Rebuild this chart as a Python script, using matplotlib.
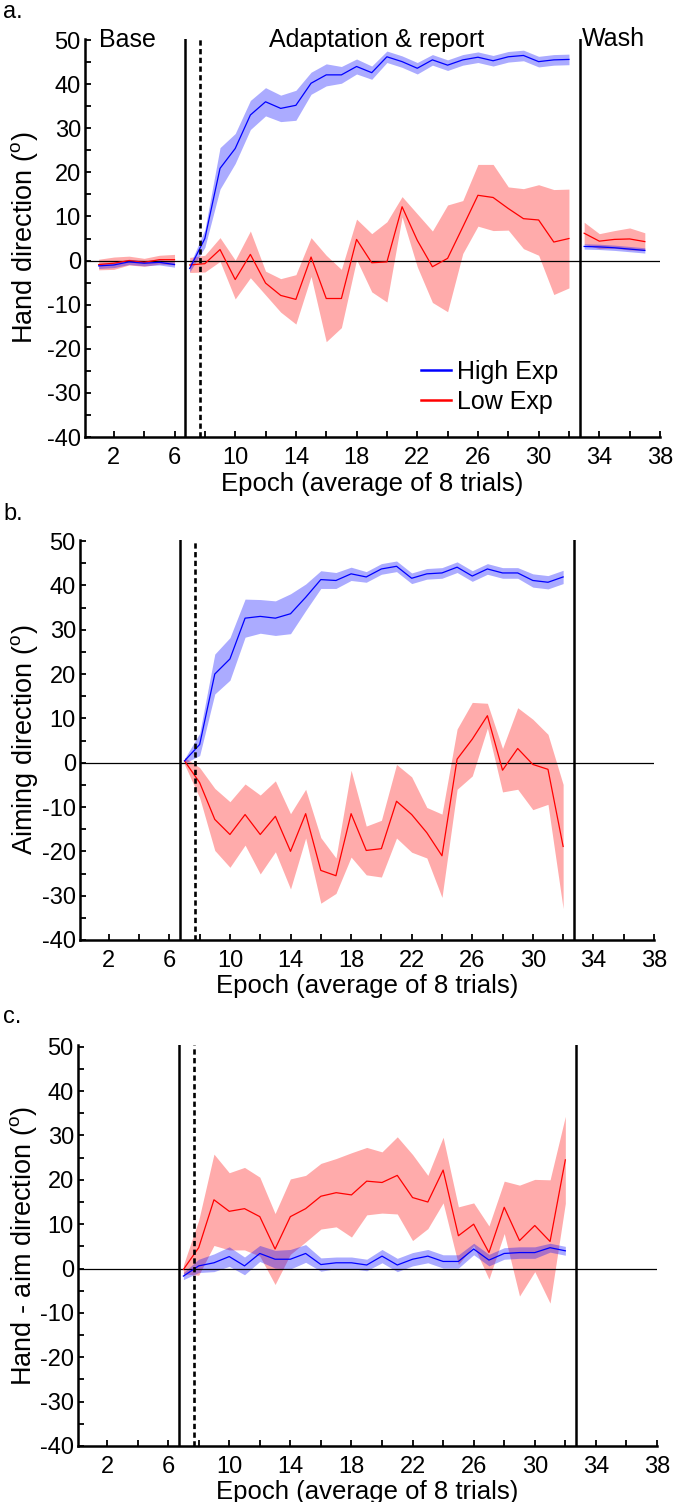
import matplotlib
matplotlib.use('Agg')
import numpy as np
import matplotlib.pyplot as plt

plt.rcParams['font.family'] = ['Liberation Sans', 'DejaVu Sans']
plt.rcParams['mathtext.default'] = 'regular'
plt.rcParams['axes.unicode_minus'] = False

# Эпохи
epochs_base = [1, 2, 3, 4, 5, 6]
epochs_adapt = [7, 8, 9, 10, 11, 12, 13, 14, 15, 16, 17, 18, 19, 20,
                21, 22, 23, 24, 25, 26, 27, 28, 29, 30, 31, 32]
epochs_wash = [33, 34, 35, 36, 37]

# a. Hand direction
hand_high_base = [-1.2, -1.0, -0.3, -0.6, -0.4, -0.9]
hand_high_base_sem = [0.6, 0.6, 0.6, 0.6, 0.6, 0.6]
hand_low_base = [-0.9, -0.6, 0.0, -0.4, 0.2, 0.2]
hand_low_base_sem = [1.2, 1.4, 1.0, 0.9, 1.0, 1.2]

hand_high = [-1.8, 5.0, 20.9, 25.4, 33.0, 36.0, 34.5, 35.2, 40.2, 42.1, 42.1, 44.0, 42.6,
             46.2, 45.1, 43.6, 45.5, 44.3, 45.5, 46.1, 45.3, 46.2, 46.5, 45.1, 45.5, 45.6]
hand_high_sem = [0.8, 2.0, 4.7, 3.4, 3.3, 3.2, 3.0, 3.4, 2.5, 2.5, 1.9, 1.7, 1.5,
                 1.3, 1.3, 1.3, 1.2, 1.2, 1.2, 1.2, 1.2, 1.2, 1.2, 1.2, 1.2, 1.2]
hand_low = [-1.0, -0.7, 2.5, -4.3, 1.4, -5.1, -7.9, -8.8, 0.8, -8.6, -8.6, 4.8, -0.5,
            -0.3, 12.2, 4.6, -1.4, 0.5, 7.6, 14.8, 14.3, 11.8, 9.5, 9.2, 4.2, 5.0]
hand_low_sem = [1.7, 1.9, 2.7, 4.4, 5.3, 2.7, 3.8, 5.6, 4.4, 9.8, 6.6, 4.6, 6.6,
                9.1, 2.3, 6.0, 8.1, 12.1, 6.0, 7.0, 7.5, 4.9, 6.8, 8.0, 11.9, 11.2]

hand_high_wash = [3.2, 3.1, 2.9, 2.6, 2.3]
hand_high_wash_sem = [0.6, 0.6, 0.6, 0.6, 0.6]
hand_low_wash = [6.2, 4.4, 4.8, 4.9, 4.3]
hand_low_wash_sem = [2.5, 1.7, 2.0, 2.5, 2.0]

# b. Aiming direction
aim_high = [0.4, 4.1, 20.0, 23.4, 32.6, 33.0, 32.6, 33.6, 37.3, 41.3, 41.1, 42.6, 41.9,
            43.7, 44.3, 41.6, 42.6, 42.8, 44.1, 42.1, 43.7, 42.8, 42.8, 41.1, 40.7, 41.9]
aim_high_sem = [0.5, 2.5, 4.5, 4.8, 4.3, 3.8, 3.9, 4.5, 3.0, 2.0, 1.8, 1.5, 1.2,
                1.2, 1.2, 1.2, 1.2, 1.2, 1.2, 1.2, 1.2, 1.2, 1.2, 1.5, 1.5, 1.5]
aim_low = [0.4, -4.5, -12.8, -16.2, -11.7, -16.2, -12.1, -20.0, -11.5, -24.3, -25.5, -11.5, -19.8,
           -19.4, -8.7, -11.7, -15.8, -21.0, 0.8, 5.3, 10.6, -1.7, 3.2, -0.4, -1.5, -18.9]
aim_low_sem = [0.8, 3.4, 7.0, 7.4, 6.9, 8.9, 8.0, 8.5, 5.5, 7.4, 4.0, 9.8, 5.5,
               6.4, 8.3, 8.5, 5.7, 9.4, 6.8, 8.3, 2.8, 4.9, 9.2, 10.2, 7.9, 14.0]

# c. Hand - aim direction
diff_high = [-1.7, 0.6, 1.3, 2.7, 0.6, 3.4, 2.1, 2.1, 3.4, 0.9, 1.3, 1.3, 0.8,
             2.8, 0.8, 2.1, 2.8, 1.6, 1.6, 4.4, 1.9, 3.4, 3.6, 3.6, 4.7, 4.0]
diff_high_sem = [0.8, 1.5, 2.0, 2.2, 2.0, 1.8, 2.0, 2.2, 2.0, 1.5, 1.3, 1.3, 1.3,
                 1.5, 1.5, 1.5, 1.5, 1.5, 1.5, 1.3, 1.3, 1.3, 1.3, 1.3, 1.0, 1.0]
diff_low = [-0.2, 4.7, 15.5, 12.9, 13.5, 11.7, 4.4, 11.7, 13.5, 16.3, 17.1, 16.6, 19.7,
            19.4, 21.0, 16.0, 15.0, 22.2, 7.4, 10.0, 3.6, 13.8, 6.3, 9.7, 6.1, 24.5]
diff_low_sem = [1.0, 6.2, 10.3, 8.7, 9.3, 8.9, 8.0, 8.5, 7.5, 7.4, 7.7, 9.5, 7.6,
                6.9, 8.7, 9.7, 6.0, 7.4, 6.5, 4.8, 6.0, 5.9, 12.5, 10.4, 13.9, 9.8]

x_labels = [2, 6, 10, 14, 18, 22, 26, 30, 34, 38]
x_minor = [4, 8, 12, 16, 20, 24, 28, 32, 36]
y_labels = [-40, -30, -20, -10, 0, 10, 20, 30, 40, 50]
y_minor = [-35, -25, -15, -5, 5, 15, 25, 35, 45]

W, H = 675, 1502
fig = plt.figure(figsize=(W / 100, H / 100), dpi=100)


def band(ax, x, m, s, color, fill, label=None):
    m = np.array(m)
    s = np.array(s)
    ax.fill_between(x, m - s, m + s, color=fill, alpha=0.33, linewidth=0, zorder=1)
    ax.plot(x, m, color=color, linewidth=0.9, zorder=3, label=label)


def setup(ax, ylabel, label_x, letter, letter_y):
    ax.set_xlim(0.1, 38.0)
    ax.set_ylim(-40, 50.3)
    ax.set_xticks(x_labels)
    ax.set_xticks(x_minor, minor=True)
    ax.set_yticks(y_labels)
    ax.set_yticks(y_minor, minor=True)
    ax.tick_params(which='both', direction='in', length=4, width=1.3)
    ax.tick_params(axis='x', labelsize=17, pad=7)
    ax.tick_params(axis='y', labelsize=17, pad=3)
    for sp in ['top', 'right']:
        ax.spines[sp].set_visible(False)
    for sp in ['left', 'bottom']:
        ax.spines[sp].set_linewidth(1.8)
    # линии этапов
    ax.axvline(6.7, color='black', linewidth=1.8, zorder=4)
    ax.axvline(7.7, color='black', linewidth=1.9, linestyle=(0, (2.0, 1.3)), zorder=4)
    ax.axvline(32.7, color='black', linewidth=1.8, zorder=4)
    ax.axhline(0, color='black', linewidth=0.9, zorder=2)
    ax.set_xlabel('Epoch (average of 8 trials)', fontsize=18.5, labelpad=2)
    pos = ax.get_position()
    fig.text(label_x / W, (pos.y0 + pos.y1) / 2, ylabel, rotation=90,
             ha='center', va='center', fontsize=19.5)
    fig.text(3 / W, 1 - letter_y / H, letter, fontsize=17, ha='left', va='baseline')


# a.
ax1 = fig.add_axes([85 / W, 1 - 437 / H, 575 / W, 398.3 / H])
band(ax1, epochs_base, hand_low_base, hand_low_base_sem, 'red', 'red')
band(ax1, epochs_base, hand_high_base, hand_high_base_sem, 'blue', 'blue')
band(ax1, epochs_adapt, hand_low, hand_low_sem, 'red', 'red')
band(ax1, epochs_adapt, hand_high, hand_high_sem, 'blue', 'blue')
band(ax1, epochs_wash, hand_low_wash, hand_low_wash_sem, 'red', 'red')
band(ax1, epochs_wash, hand_high_wash, hand_high_wash_sem, 'blue', 'blue')
setup(ax1, r'Hand direction ($^o$)', 25, 'a.', 18)
ax1.text(1.05, 50.1, 'Base', fontsize=18, ha='left', va='center')
ax1.text(19.3, 50.1, 'Adaptation & report', fontsize=18, ha='center', va='center')
ax1.text(32.85, 50.3, 'Wash', fontsize=18, ha='left', va='center')

h1, = ax1.plot([], [], color='blue', linewidth=1.8)
h2, = ax1.plot([], [], color='red', linewidth=1.8)
ax1.legend([h1, h2], ['High Exp', 'Low Exp'], loc='center left',
           bbox_to_anchor=(0.584, 0.126), frameon=False, fontsize=18,
           handlelength=1.2, handletextpad=0.25, labelspacing=0.25,
           borderpad=0, borderaxespad=0)

# b.
ax2 = fig.add_axes([80 / W, 1 - 940 / H, 574 / W, 400.3 / H])
band(ax2, epochs_adapt, aim_low, aim_low_sem, 'red', 'red')
band(ax2, epochs_adapt, aim_high, aim_high_sem, 'blue', 'blue')
setup(ax2, r'Aiming direction ($^o$)', 25, 'b.', 520)

# c.
ax3 = fig.add_axes([78 / W, 1 - 1446 / H, 579 / W, 400.6 / H])
band(ax3, epochs_adapt, diff_low, diff_low_sem, 'red', 'red')
band(ax3, epochs_adapt, diff_high, diff_high_sem, 'blue', 'blue')
setup(ax3, r'Hand - aim direction ($^o$)', 24, 'c.', 1023)

plt.savefig('out.png', dpi=100)
